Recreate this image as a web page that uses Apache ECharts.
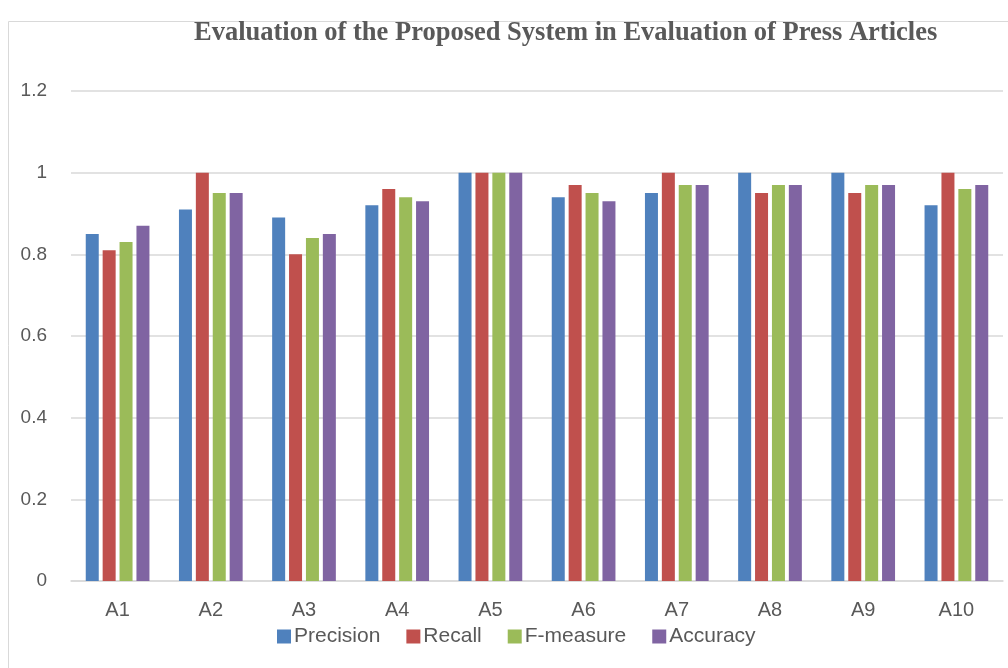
<!DOCTYPE html>
<html lang="en">
<head>
    <meta charset="UTF-8">
    <title>Evaluation of Press Articles</title>
    <script src="https://cdn.jsdelivr.net/npm/echarts@6/dist/echarts.min.js"></script>
    <style>
        html, body { margin: 0; padding: 0; background: #fff; }
        #main { width: 1008px; height: 668px; }
    </style>
</head>
<body>
<div id="main"></div>
<script type="text/javascript">
    // categories and series values
    var articles = ['A1', 'A2', 'A3', 'A4', 'A5', 'A6', 'A7', 'A8', 'A9', 'A10'];
    var precision = [0.85, 0.91, 0.89, 0.92, 1, 0.94, 0.95, 1, 1, 0.92];
    var recall    = [0.81, 1, 0.80, 0.96, 1, 0.97, 1, 0.95, 0.95, 1];
    var fmeasure  = [0.83, 0.95, 0.84, 0.94, 1, 0.95, 0.97, 0.97, 0.97, 0.96];
    var accuracy  = [0.87, 0.95, 0.85, 0.93, 1, 0.93, 0.97, 0.97, 0.97, 0.97];

    var names = ['Precision', 'Recall', 'F-measure', 'Accuracy'];
    var colors = ['#4F81BD', '#C0504D', '#9BBB59', '#8064A2'];
    var values = [precision, recall, fmeasure, accuracy];

    var textFont = 'Liberation Sans';
    var chart = echarts.init(document.getElementById('main'));

    var series = names.map(function (n, i) {
        return {
            name: n,
            type: 'bar',
            barWidth: 13,
            barGap: '30%',
            itemStyle: { color: colors[i] },
            data: values[i]
        };
    });

    var option = {
        animation: false,
        color: colors,
        title: {
            text: 'Evaluation of the Proposed System in Evaluation of Press Articles',
            left: 189,
            top: 15,
            textStyle: {
                fontFamily: 'Liberation Serif',
                fontWeight: 'bold',
                fontSize: 26.5,
                color: '#595959'
            }
        },
        graphic: [{
            type: 'rect',
            shape: { x: 8.5, y: 21.5, width: 1010, height: 700 },
            style: { fill: 'none', stroke: '#d9d9d9', lineWidth: 1 },
            silent: true
        }],
        legend: {
            data: names,
            top: 621,
            left: 272,
            itemWidth: 14,
            itemHeight: 14,
            itemGap: 26,
            icon: 'rect',
            textStyle: { fontFamily: textFont, fontSize: 21, color: '#595959', padding: [0, 0, 0, -2] }
        },
        grid: { left: 71, right: 5, top: 91, bottom: 87 },
        xAxis: {
            type: 'category',
            data: articles,
            axisLine: { lineStyle: { color: '#d9d9d9', width: 1.5 } },
            axisTick: { show: false },
            axisLabel: { fontFamily: textFont, fontSize: 20, color: '#595959', margin: 19 }
        },
        yAxis: {
            type: 'value',
            min: 0,
            max: 1.2,
            interval: 0.2,
            axisLine: { show: false },
            axisTick: { show: false },
            splitLine: { lineStyle: { color: '#d9d9d9', width: 1.5 } },
            axisLabel: {
                fontFamily: textFont, fontSize: 19, color: '#595959', margin: 24,
                formatter: function (v) { return Math.round(v * 10) / 10 + ''; }
            }
        },
        series: series
    };
    chart.setOption(option);
</script>
</body>
</html>
